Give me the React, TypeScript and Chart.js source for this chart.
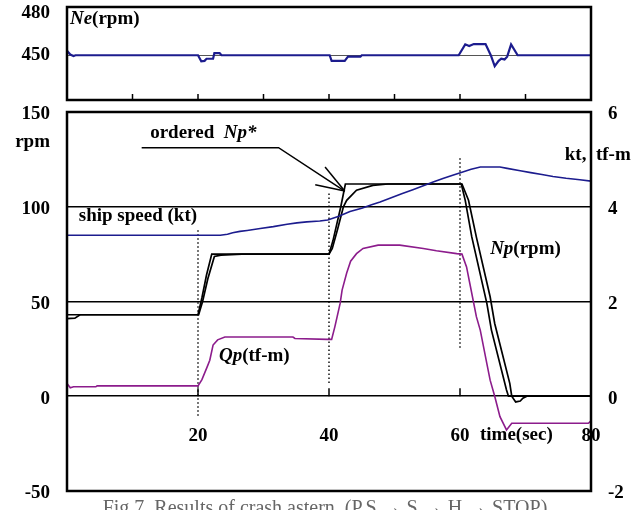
import React, { useEffect, useRef } from 'react';
import { Chart, registerables } from 'chart.js';
Chart.register(...registerables);

const FONT = '"Liberation Serif", "Times New Roman", serif';
const NAVY = '#1c1c8e';
const PURPLE = '#8c1c8c';

// ---------- top panel: engine speed Ne (rpm) ----------
const neTime = [0, 0.5, 1.0, 1.3, 20.0, 20.5, 21.0, 21.3, 22.3, 22.5, 23.3, 23.6, 40.1, 40.4, 42.4, 42.9, 44.8, 45.0, 59.8, 60.8, 61.4, 62.1, 63.9, 64.7, 65.3, 65.9, 66.3, 66.8, 67.2, 67.8, 68.8, 80];
const neRpm = [453.2, 450.5, 449.5, 450, 450, 445.7, 446, 447.5, 447.5, 451.5, 451.5, 450, 450, 446, 446, 449, 449, 450, 450, 457.8, 456.6, 458, 458, 450, 442.2, 446, 447.5, 447, 449, 457.8, 450, 450];
const neTicks = [450, 480];
const topXTicks = [10, 20, 30, 40, 50, 60, 70];

// ---------- main panel ----------
const timeTicks = [20, 40, 60, 80];
const rpmTicks = [-50, 0, 50, 100, 150];
const ktTicks = [-2, 0, 2, 4, 6];

// ordered propeller speed Np* (rpm)
const npCmdTime = [0, 20.0, 20.6, 21.3, 22.1, 40.0, 40.6, 41.8, 42.5, 60.2, 60.8, 61.8, 64.1, 64.8, 67.1, 67.4, 80];
const npCmdRpm = [43, 43, 52, 64, 75, 75, 82, 100, 112, 112, 103.4, 84.1, 49, 34.9, 3.3, 0, 0];

// actual propeller speed Np (rpm)
const npTime = [0, 1.2, 2.0, 20.1, 20.7, 21.5, 22.5, 23.5, 26.7, 40.0, 40.5, 41.3, 42.2, 42.7, 44.2, 46.7, 49, 60.3, 61.3, 62.5, 64.6, 65.3, 67.6, 67.9, 68.5, 69.2, 69.6, 70.2, 80];
const npRpm = [41, 41.2, 43, 43, 50, 62, 73.8, 74.5, 75, 75, 78, 88, 100, 103.4, 108.7, 111.3, 112, 112, 103.4, 84, 52.5, 38.4, 6.8, 0, -3, -2.5, -1, 0, 0];

// ship speed (kt)
const spdTime = [0, 23.4, 24.5, 25.3, 26.4, 27.5, 29.5, 31.5, 33.6, 35.1, 36.6, 38.6, 39.8, 41.5, 43.2, 45, 46.5, 47.8, 49.5, 51.2, 52.8, 54.3, 55.9, 57.5, 59, 60.3, 61.7, 63.1, 66.1, 67.2, 69.2, 70.8, 72.5, 74.2, 76.2, 78.3, 80];
const spdKt = [3.4, 3.4, 3.42, 3.45, 3.48, 3.5, 3.54, 3.58, 3.63, 3.66, 3.68, 3.7, 3.72, 3.8, 3.9, 3.97, 4.04, 4.1, 4.19, 4.28, 4.36, 4.44, 4.52, 4.6, 4.67, 4.73, 4.79, 4.84, 4.84, 4.81, 4.76, 4.72, 4.68, 4.64, 4.6, 4.57, 4.54];

// propeller torque Qp (tf-m)
const qpTime = [0, 0.5, 1.0, 4.4, 4.6, 20.0, 20.6, 21.4, 21.8, 22.3, 23.0, 24.1, 34.5, 34.8, 39.7, 40.4, 40.9, 41.7, 42.0, 42.7, 43.3, 44.2, 45.2, 47.5, 50.8, 54.4, 56.4, 59.5, 60.3, 61.0, 61.5, 62.5, 63.1, 64.1, 64.6, 65.3, 66.1, 67.1, 67.9, 79.6, 80];
const qpVal = [0.27, 0.18, 0.2, 0.2, 0.22, 0.22, 0.35, 0.62, 0.76, 1.08, 1.19, 1.25, 1.25, 1.22, 1.2, 1.2, 1.47, 1.96, 2.24, 2.6, 2.85, 3.01, 3.12, 3.19, 3.19, 3.12, 3.07, 3.01, 3.0, 2.73, 2.38, 1.68, 1.39, 0.69, 0.34, 0.0, -0.43, -0.71, -0.57, -0.57, -0.52];

// dotted marker lines (time, rpm from -> to)
const dotTimes = [20, 40, 60];
const dotTop = [87.6, 107, 125.6];
const dotBottom = [-11.5, 6, 25.4];

// arrow for "ordered Np*" (time, rpm)
const arrowShaftT = [11.4, 32.3, 42.4];
const arrowShaftR = [131.2, 131.2, 108.3];
const barb1T = [39.4, 42.4];
const barb1R = [121, 108.3];
const barb2T = [37.9, 42.4];
const barb2R = [111.6, 108.3];

type Part = { t: string; i?: boolean };
const mainLabels: { parts: Part[]; x: number; y: number; align?: string }[] = [
  { parts: [{ t: 'ordered  ' }, { t: 'Np*', i: true }], x: 12.7, y: 138.8 },
  { parts: [{ t: 'ship speed (kt)' }], x: 1.8, y: 95 },
  { parts: [{ t: 'Np', i: true }, { t: '(rpm)' }], x: 64.6, y: 77.6 },
  { parts: [{ t: 'Qp', i: true }, { t: '(tf-m)' }], x: 23.2, y: 21.2 },
  { parts: [{ t: 'time(sec)' }], x: 63.05, y: -20.5 },
  { parts: [{ t: 'kt,  tf-m' }], x: 76.0, y: 127.4 },
  { parts: [{ t: 'rpm' }], x: -2.6, y: 134, align: 'right' },
];
const topLabels: { parts: Part[]; x: number; y: number; align?: string }[] = [
  { parts: [{ t: 'Ne', i: true }, { t: '(rpm)' }], x: 0.45, y: 475.9 },
];
const CAPTION = 'Fig.7  Results of crash astern  (P.S \u2192 S \u2192 H \u2192 STOP)';

const xy = (xs: number[], ys: number[]) => xs.map((x, i) => ({ x, y: ys[i] }));

function drawParts(ctx: CanvasRenderingContext2D, parts: Part[], x: number, y: number, size: number, align?: string) {
  const fonts = parts.map((p) => `${p.i ? 'italic ' : ''}bold ${size}px ${FONT}`);
  let total = 0;
  parts.forEach((p, k) => {
    ctx.font = fonts[k];
    total += ctx.measureText(p.t).width;
  });
  let cx = align === 'right' ? x - total : align === 'center' ? x - total / 2 : x;
  ctx.textBaseline = 'middle';
  ctx.textAlign = 'left';
  ctx.fillStyle = '#000';
  parts.forEach((p, k) => {
    ctx.font = fonts[k];
    ctx.fillText(p.t, cx, y);
    cx += ctx.measureText(p.t).width;
  });
}

const lineDs = (data: any, color: string, width: number, yAxisID: string, dash?: number[]) => ({
  data,
  borderColor: color,
  backgroundColor: color,
  borderWidth: width,
  pointRadius: 0,
  tension: 0,
  fill: false,
  yAxisID,
  borderDash: dash || [],
});

const tickFont = { family: FONT, size: 19, weight: 'bold' as const };

export default function App() {
  const topRef = useRef<HTMLCanvasElement>(null);
  const mainRef = useRef<HTMLCanvasElement>(null);

  useEffect(() => {
    const mainPlugin = {
      id: 'mainDecor',
      afterDatasetsDraw(chart: any) {
        const { ctx, chartArea: a, scales } = chart;
        const xs = scales.x;
        const ys = scales.y;
        ctx.save();
        ctx.strokeStyle = '#000';
        ctx.lineWidth = 1.5;
        const y0 = ys.getPixelForValue(0);
        timeTicks.slice(0, 3).forEach((t) => {
          const px = xs.getPixelForValue(t);
          ctx.beginPath();
          ctx.moveTo(px, y0);
          ctx.lineTo(px, y0 - 8);
          ctx.stroke();
        });
        ctx.lineWidth = 2.5;
        ctx.strokeRect(a.left, a.top, a.right - a.left, a.bottom - a.top);
        mainLabels.forEach((l) => {
          drawParts(ctx, l.parts, xs.getPixelForValue(l.x), ys.getPixelForValue(l.y), 19, l.align);
        });
        // caption (cut by the picture edge)
        ctx.font = `20px ${FONT}`;
        ctx.fillStyle = '#666';
        ctx.textAlign = 'center';
        ctx.textBaseline = 'alphabetic';
        ctx.fillText(CAPTION, 325, 514);
        ctx.restore();
      },
    };

    const topPlugin = {
      id: 'topDecor',
      afterDatasetsDraw(chart: any) {
        const { ctx, chartArea: a, scales } = chart;
        const xs = scales.x;
        const ys = scales.y;
        ctx.save();
        ctx.strokeStyle = '#000';
        ctx.lineWidth = 1.5;
        topXTicks.forEach((t) => {
          const px = xs.getPixelForValue(t);
          ctx.beginPath();
          ctx.moveTo(px, a.bottom);
          ctx.lineTo(px, a.bottom - 6);
          ctx.stroke();
        });
        ctx.lineWidth = 2.5;
        ctx.strokeRect(a.left, a.top, a.right - a.left, a.bottom - a.top);
        topLabels.forEach((l) => {
          drawParts(ctx, l.parts, xs.getPixelForValue(l.x), ys.getPixelForValue(l.y), 19, l.align);
        });
        ctx.restore();
      },
    };

    const datasetsMain: any[] = [
      lineDs(xy(qpTime, qpVal), PURPLE, 1.6, 'y2'),
      lineDs(xy(spdTime, spdKt), NAVY, 1.6, 'y2'),
      ...dotTimes.map((t, i) => lineDs(xy([t, t], [dotTop[i], dotBottom[i]]), '#000', 1.4, 'y', [1.5, 2.5])),
      lineDs(xy(npCmdTime, npCmdRpm), '#000', 1.7, 'y'),
      lineDs(xy(npTime, npRpm), '#000', 1.7, 'y'),
      lineDs(xy(arrowShaftT, arrowShaftR), '#000', 1.5, 'y'),
      lineDs(xy(barb1T, barb1R), '#000', 1.5, 'y'),
      lineDs(xy(barb2T, barb2R), '#000', 1.5, 'y'),
    ];

    const main = new Chart(mainRef.current as HTMLCanvasElement, {
      type: 'line',
      data: { datasets: datasetsMain },
      options: {
        animation: false,
        responsive: false,
        devicePixelRatio: 1,
        layout: { padding: { top: 112, bottom: 19, left: 0, right: 0 } },
        plugins: { legend: { display: false }, tooltip: { enabled: false } },
        scales: {
          x: {
            type: 'linear',
            min: 0,
            max: 80,
            position: { y: 0 } as any,
            afterBuildTicks: (s: any) => {
              s.ticks = timeTicks.map((v) => ({ value: v }));
            },
            afterFit: (s: any) => {
              s.height = 0;
              s.paddingLeft = 0;
              s.paddingRight = 0;
            },
            grid: { display: false, drawTicks: false },
            border: { display: false },
            ticks: { font: tickFont, color: '#000', padding: 28, maxRotation: 0, autoSkip: false },
          },
          y: {
            type: 'linear',
            position: 'left',
            min: -50,
            max: 150,
            afterBuildTicks: (s: any) => {
              s.ticks = rpmTicks.map((v) => ({ value: v }));
            },
            afterFit: (s: any) => {
              s.width = 67;
              s.paddingTop = 0;
              s.paddingBottom = 0;
            },
            grid: {
              color: (c: any) => (c.tick && (c.tick.value === 150 || c.tick.value === -50) ? 'rgba(0,0,0,0)' : '#000'),
              lineWidth: 1.6,
              drawTicks: false,
            },
            border: { display: false },
            ticks: { font: tickFont, color: '#000', padding: 17, labelOffset: 2.5 },
          },
          y2: {
            type: 'linear',
            position: 'right',
            min: -2,
            max: 6,
            afterBuildTicks: (s: any) => {
              s.ticks = ktTicks.map((v) => ({ value: v }));
            },
            afterFit: (s: any) => {
              s.width = 50;
              s.paddingTop = 0;
              s.paddingBottom = 0;
            },
            grid: { display: false, drawTicks: false },
            border: { display: false },
            ticks: { font: tickFont, color: '#000', padding: 17, labelOffset: 2.5 },
          },
        },
      } as any,
      plugins: [mainPlugin],
    });

    const top = new Chart(topRef.current as HTMLCanvasElement, {
      type: 'line',
      data: { datasets: [lineDs(xy(neTime, neRpm), NAVY, 2.2, 'y')] as any },
      options: {
        animation: false,
        responsive: false,
        devicePixelRatio: 1,
        layout: { padding: { top: 7, bottom: 6, left: 0, right: 50 } },
        plugins: { legend: { display: false }, tooltip: { enabled: false } },
        scales: {
          x: { type: 'linear', min: 0, max: 80, display: false },
          y: {
            type: 'linear',
            min: 418,
            max: 484.5,
            afterBuildTicks: (s: any) => {
              s.ticks = neTicks.map((v) => ({ value: v }));
            },
            afterFit: (s: any) => {
              s.width = 67;
              s.paddingTop = 0;
              s.paddingBottom = 0;
            },
            grid: {
              color: (c: any) => (c.tick && c.tick.value === 450 ? '#555' : 'rgba(0,0,0,0)'),
              lineWidth: 1,
              drawTicks: false,
            },
            border: { display: false },
            ticks: { font: tickFont, color: '#000', padding: 17 },
          },
        },
      } as any,
      plugins: [topPlugin],
    });

    return () => {
      main.destroy();
      top.destroy();
    };
  }, []);

  return (
    <div style={{ position: 'fixed', left: 0, top: 0, width: 641, height: 510, background: '#fff', overflow: 'hidden' }}>
      <canvas ref={mainRef} width={641} height={510} style={{ position: 'absolute', left: 0, top: 0, display: 'block' }} />
      <canvas ref={topRef} width={641} height={106} style={{ position: 'absolute', left: 0, top: 0, display: 'block' }} />
    </div>
  );
}
